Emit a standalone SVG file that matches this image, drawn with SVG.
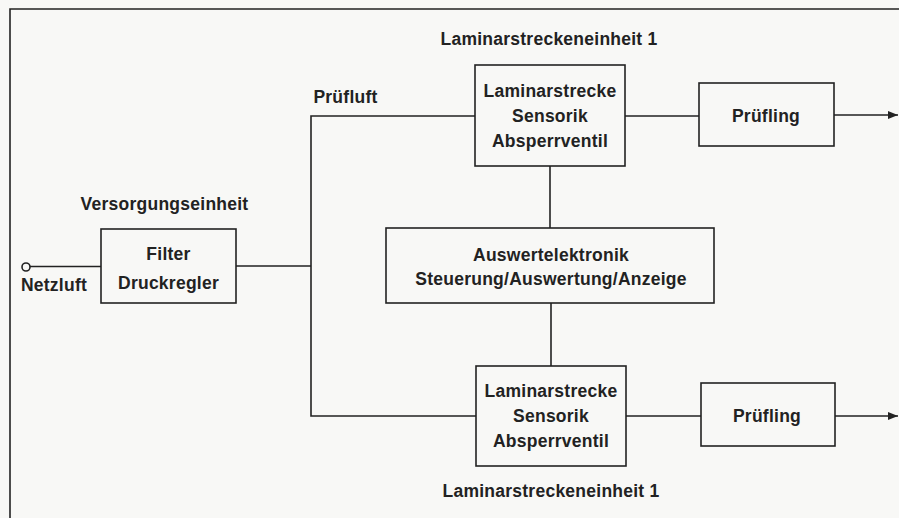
<svg xmlns="http://www.w3.org/2000/svg" width="899" height="518" viewBox="0 0 899 518">
<style>
.bx{fill:none;stroke:#222;stroke-width:1.6}
.ln{fill:none;stroke:#222;stroke-width:1.6}
text{font-family:"Liberation Sans",Arial,sans-serif;font-weight:bold;font-size:17.5px;fill:#222;letter-spacing:0.25px;text-anchor:middle}
</style>
<defs>
<marker id="arr" markerWidth="10" markerHeight="8" refX="10" refY="4" orient="auto" markerUnits="userSpaceOnUse">
<path d="M0,0 L10,4 L0,8 Z" fill="#222"/>
</marker>
</defs>
<rect width="899" height="518" fill="#f8f8f6"/>
<path class="ln" d="M10,518 V9 H899"/>
<g id="connectors">
<circle cx="26" cy="267" r="4" class="ln" fill="#f8f8f6"/>
<path class="ln" d="M30,266.5 H101"/>
<path class="ln" d="M236,266 H311"/>
<path class="ln" d="M475,116 H311 V416 H476"/>
<path class="ln" d="M625,116 H699"/>
<path class="ln" d="M834,115 H898" marker-end="url(#arr)"/>
<path class="ln" d="M550,166 V228"/>
<path class="ln" d="M551,303 V366"/>
<path class="ln" d="M626,416 H701"/>
<path class="ln" d="M835,416 H898" marker-end="url(#arr)"/>
</g>
<g id="netzluft"><text x="54" y="291">Netzluft</text></g>
<g id="versorgung">
<text x="164.5" y="210">Versorgungseinheit</text>
<rect class="bx" x="101" y="229" width="135" height="74"/>
<text x="168.5" y="260">Filter</text>
<text x="168.5" y="289">Druckregler</text>
</g>
<g id="pruefluft"><text x="345.5" y="103">Prüfluft</text></g>
<g id="laminar1">
<text x="549" y="45">Laminarstreckeneinheit 1</text>
<rect class="bx" x="475" y="65" width="150" height="101"/>
<text x="550" y="97">Laminarstrecke</text>
<text x="550" y="122">Sensorik</text>
<text x="550" y="147">Absperrventil</text>
</g>
<g id="pruefling1">
<rect class="bx" x="699" y="83" width="135" height="63"/>
<text x="766" y="122">Prüfling</text>
</g>
<g id="auswerte">
<rect class="bx" x="386" y="228" width="328" height="75"/>
<text x="551" y="261">Auswertelektronik</text>
<text x="551" y="285">Steuerung/Auswertung/Anzeige</text>
</g>
<g id="laminar2">
<rect class="bx" x="476" y="366" width="150" height="100"/>
<text x="551" y="397">Laminarstrecke</text>
<text x="551" y="422">Sensorik</text>
<text x="551" y="447">Absperrventil</text>
<text x="551" y="497">Laminarstreckeneinheit 1</text>
</g>
<g id="pruefling2">
<rect class="bx" x="701" y="383" width="134" height="63"/>
<text x="767" y="422">Prüfling</text>
</g>
</svg>
